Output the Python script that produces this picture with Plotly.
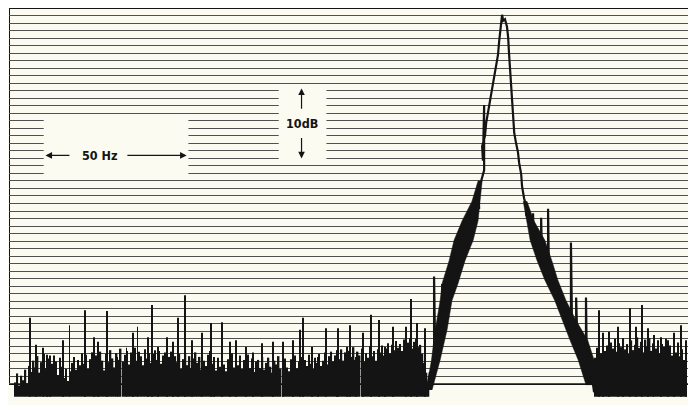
import plotly.graph_objects as go

# Spectrum analyser display: top graticule line = 0 dB, 1 dB per line, 50 dB deep, ~235 Hz wide
FREQ_SPAN = 235.0
DB_TOP = 0.0
DB_BOTTOM = -50.0
FLOOR_DB = -51.7  # lowest excursion of the trace (below the graticule)
graticule_db = list(range(-50, 1))

# Dense noise "grass" read on a uniform bin grid (Hz start, Hz step) -> level in dB
grass_left_start = 2.2
grass_right_start = 202.5
grass_step = 0.7
grass_left_db = [
    -49.8, -48.6, -50.2, -48.9, -49.5, -48.1, -49.9, -47.6, -48.4, -46.9,
    -47.8, -46.3, -48.5, -47.1, -46.0, -47.9, -46.6, -48.7, -47.3, -46.2,
    -47.0, -48.8, -46.5, -47.7, -49.2, -48.0, -49.6, -48.3, -47.2, -46.4,
    -48.1, -46.8, -47.5, -45.9, -47.3, -46.1, -48.0, -46.7, -45.8, -47.4,
    -46.2, -47.9, -45.7, -46.9, -48.2, -46.0, -47.1, -45.5, -46.6, -47.8,
    -45.9, -46.8, -45.3, -47.0, -46.1, -45.6, -47.4, -45.8, -46.5, -45.2,
    -46.9, -45.7, -46.3, -47.5, -45.4, -46.6, -45.9, -47.2, -46.0, -45.5,
    -46.8, -45.6, -47.3, -46.2, -45.8, -47.0, -46.4, -45.7, -47.6, -46.3,
    -47.1, -46.0, -48.0, -46.7, -45.9, -47.5, -46.3, -47.9, -46.6, -45.8,
    -47.2, -46.4, -48.1, -46.9, -47.6, -46.1, -45.6, -47.3, -46.8, -48.2,
    -46.5, -47.7, -46.0, -47.4, -48.3, -46.7, -47.1, -45.9, -47.8, -46.4,
    -47.5, -46.2, -48.0, -46.8, -47.3, -46.1, -47.9, -46.6, -48.4, -47.0,
    -46.8, -47.9, -46.4, -48.1, -47.2, -46.5, -47.7, -48.5, -46.9, -47.4,
    -46.3, -48.0, -47.1, -46.6, -47.8, -48.3, -46.7, -47.5, -46.2, -47.9,
    -47.0, -46.4, -48.2, -46.8, -47.6, -46.1, -47.3, -48.0, -46.5, -47.2,
    -46.0, -47.6, -46.9, -45.8, -47.4, -46.3, -45.7, -47.0, -46.2, -45.5,
    -46.7, -45.4, -46.9, -45.8, -47.2, -45.6, -46.4, -45.1, -46.8, -45.7,
    -46.2, -45.3, -47.0, -45.9, -46.5, -45.0, -46.3, -45.6, -46.9, -45.4,
    -45.8, -44.9, -46.2, -45.3, -44.6, -45.9, -44.8, -45.5, -44.3, -45.2,
    -44.7, -45.6, -44.1, -45.0, -44.5, -43.9, -45.3, -44.4, -44.0, -45.1,
    -44.8, -46.0, -47.2, -48.5, -50.0,
]
grass_right_db = [
    -46.5, -45.2, -44.8, -45.9, -44.3, -45.6, -44.9, -46.1, -44.5, -45.3,
    -44.0, -45.7, -44.6, -45.1, -43.9, -45.4, -44.7, -46.0, -44.2, -45.5,
    -44.8, -43.8, -45.2, -44.4, -45.8, -44.1, -45.0, -43.9, -45.6, -44.6,
    -45.3, -44.2, -45.9, -44.7, -45.1, -44.0, -45.7, -44.9, -46.2, -45.0,
    -45.8, -44.5, -46.3, -45.4, -46.8, -47.5,
]

# Tall noise spikes (Hz, dB)
spike_freq = [
    7.1, 9.2, 11.9, 13.0, 14.3, 18.5, 20.9, 26.4, 29.5, 30.9,
    34.0, 37.5, 40.6, 43.0, 44.4, 48.2, 49.5, 51.6, 54.7, 56.8,
    58.5, 60.9, 63.4, 66.8, 69.9, 70.8, 73.7, 76.5, 78.6, 82.0,
    84.4, 87.5, 91.3, 94.8, 98.2, 100.7, 101.7, 104.8, 106.9, 109.6,
    113.4, 113.8, 116.9, 117.9, 120.0, 122.4, 125.2, 127.9, 130.0, 132.8,
    137.3, 139.0, 141.1, 143.8,
    203.9, 205.3, 207.4, 210.5, 212.2, 214.6, 216.7, 218.8, 220.8, 222.9,
    225.3, 227.7, 229.8, 232.2, 233.9,
]
spike_db = [
    -41.2, -44.8, -45.2, -46.1, -46.2, -44.2, -42.2, -40.2, -43.8, -44.4,
    -40.3, -46.4, -45.2, -43.2, -42.4, -43.8, -39.5, -45.1, -43.8, -44.4,
    -41.2, -38.2, -44.2, -43.2, -41.9, -46.4, -41.8, -44.4, -44.2, -45.1,
    -45.8, -44.6, -44.4, -44.4, -44.2, -42.8, -41.2, -45.1, -46.4, -42.6,
    -46.4, -42.6, -45.1, -42.2, -46.4, -43.2, -40.8, -41.5, -45.1, -42.4,
    -42.4, -38.7, -41.9, -42.6,
    -40.2, -43.2, -43.1, -42.4, -44.2, -39.9, -42.4, -39.5, -42.6, -43.5,
    -43.8, -44.2, -43.2, -42.2, -44.2,
]

# The carrier peak trace (Hz, dB)
peak_freq = [
    144.2, 144.9, 145.5, 146.2, 146.9, 146.9, 147.3, 148.3, 149.3, 149.7,
    149.7, 150.0, 151.1, 150.7, 152.1, 152.4, 153.8, 153.1, 155.2, 154.2,
    156.6, 155.5, 158.3, 156.9, 159.7, 158.7, 161.4, 160.7, 162.5, 162.1,
    163.2, 164.2, 164.2, 163.8, 163.5, 164.5, 164.9, 165.6, 166.3, 167.3,
    168.0, 169.0, 169.4, 169.7, 170.4, 170.8, 171.4, 172.1, 172.5, 172.8,
    173.2, 173.9, 174.2, 174.6, 175.2, 175.9, 176.3, 177.0, 177.3, 178.0,
    179.0, 178.7, 180.4, 181.1, 181.1, 181.4, 182.1, 181.4, 183.9, 183.9,
    184.2, 183.5, 186.3, 186.3, 186.6, 185.6, 188.4, 188.0, 190.8, 190.4,
    192.9, 192.5, 194.2, 194.2, 194.6, 195.3, 196.0, 196.0, 196.4, 194.9,
    197.3, 197.3, 199.4, 199.4, 199.7, 199.7, 201.5, 202.2,
]
peak_db = [
    -51.3, -49.5, -48.4, -49.7, -45.8, -35.7, -46.3, -43.5, -44.8, -40.5,
    -36.7, -40.7, -41.8, -38.3, -39.5, -36.5, -37.8, -34.6, -35.7, -32.5,
    -33.8, -30.6, -31.7, -29.0, -29.8, -27.5, -28.2, -26.1, -26.7, -24.5,
    -22.9, -21.6, -12.9, -20.3, -18.4, -17.0, -15.3, -13.7, -12.1, -10.2,
    -8.4, -6.2, -4.4, -3.0, -0.9, -1.7, -1.5, -2.5, -3.9, -6.0,
    -8.4, -11.3, -13.9, -16.6, -17.9, -19.2, -20.6, -22.1, -23.7, -25.3,
    -26.7, -27.5, -28.5, -30.4, -27.3, -31.2, -30.4, -31.7, -32.5, -27.9,
    -33.0, -33.8, -34.6, -26.7, -35.1, -35.9, -36.5, -37.8, -38.6, -39.7,
    -40.6, -41.8, -42.3, -31.2, -42.8, -42.8, -43.6, -38.5, -44.2, -43.9,
    -45.0, -46.3, -46.8, -38.5, -47.3, -48.4, -49.2, -51.1,
]

# Thickness of the noisy trace along the skirts: level (dB) with outer / inner edge (Hz)
left_band_db = [-50.8, -46.8, -42.8, -38.9, -36.6, -33.6, -30.9, -28.3, -25.7, -23.0]
left_band_outer_hz = [144.2, 146.0, 147.3, 149.0, 149.7, 152.1, 153.8, 156.6, 160.0, 162.1]
left_band_inner_hz = [146.2, 149.0, 151.4, 153.1, 155.2, 157.6, 160.4, 162.1, 162.8, 163.5]
right_band_db = [-25.7, -28.3, -30.9, -33.6, -36.2, -38.9, -41.5, -44.2, -46.8, -50.1]
right_band_outer_hz = [179.0, 181.4, 185.2, 187.6, 189.7, 192.5, 195.9, 200.0, 202.2, 203.2]
right_band_inner_hz = [177.7, 179.0, 180.1, 182.5, 185.2, 188.6, 191.1, 193.9, 196.7, 199.4]

INK = "#141414"
PAPER = "#fbfbf2"

grass_left_x = [grass_left_start + i * grass_step for i in range(len(grass_left_db))]
grass_right_x = [grass_right_start + i * grass_step for i in range(len(grass_right_db))]

fig = go.Figure()
fig.add_trace(go.Bar(
    x=grass_left_x + grass_right_x,
    y=[v - FLOOR_DB for v in grass_left_db + grass_right_db],
    base=FLOOR_DB, width=0.5,
    marker=dict(color=INK, line=dict(width=0)),
    hoverinfo="skip",
))
fig.add_trace(go.Bar(
    x=spike_freq,
    y=[v - FLOOR_DB for v in spike_db],
    base=FLOOR_DB, width=0.33,
    marker=dict(color=INK, line=dict(width=0)),
    hoverinfo="skip",
))
# skirt bands
fig.add_trace(go.Scatter(
    x=left_band_outer_hz + left_band_inner_hz[::-1],
    y=left_band_db + left_band_db[::-1],
    mode="lines", fill="toself", fillcolor=INK, line=dict(width=0.5, color=INK),
    hoverinfo="skip",
))
fig.add_trace(go.Scatter(
    x=right_band_inner_hz + right_band_outer_hz[::-1],
    y=right_band_db + right_band_db[::-1],
    mode="lines", fill="toself", fillcolor=INK, line=dict(width=0.5, color=INK),
    hoverinfo="skip",
))
fig.add_trace(go.Scatter(
    x=peak_freq, y=peak_db, mode="lines",
    line=dict(color=INK, width=2.2),
    hoverinfo="skip",
))

# graticule frame
fig.add_shape(type="rect", x0=0, x1=FREQ_SPAN, y0=DB_BOTTOM, y1=DB_TOP,
              line=dict(color=INK, width=2), layer="below")

# white legend boxes
fig.add_shape(type="rect", x0=12.0, x1=62.0, y0=-22.6, y1=-14.7,
              fillcolor=PAPER, line=dict(width=0), layer="above")
fig.add_shape(type="rect", x0=93.2, x1=109.7, y0=-20.2, y1=-10.4,
              fillcolor=PAPER, line=dict(width=0), layer="above")

font = dict(family="DejaVu Sans Condensed, DejaVu Sans, sans-serif", size=12.5, color=INK)
fig.add_annotation(x=31.4, y=-19.6, text="<b>50 Hz</b>", showarrow=False, font=font)
fig.add_annotation(x=101.3, y=-15.3, text="<b>10dB</b>", showarrow=False, font=font)

arrow = dict(showarrow=True, text="", arrowhead=2, arrowsize=1.1, arrowwidth=1.2,
             arrowcolor=INK, axref="x", ayref="y", xref="x", yref="y")
fig.add_annotation(x=12.6, y=-19.6, ax=21.4, ay=-19.6, **arrow)
fig.add_annotation(x=61.4, y=-19.6, ax=40.4, ay=-19.6, **arrow)
fig.add_annotation(x=101.1, y=-10.7, ax=101.1, ay=-13.6, **arrow)
fig.add_annotation(x=101.1, y=-20.0, ax=101.1, ay=-17.1, **arrow)

# the page body has an 8 px default margin, so the figure is sized to fit the window
fig.update_layout(
    width=688, height=397,
    margin=dict(l=1, r=7, t=0, b=6, pad=0),
    paper_bgcolor=PAPER, plot_bgcolor=PAPER,
    showlegend=False, barmode="overlay",
    xaxis=dict(range=[0, FREQ_SPAN], showgrid=False, zeroline=False,
               showticklabels=False, ticks="", showline=False, fixedrange=True),
    yaxis=dict(range=[-52.0, DB_TOP], tickmode="array", tickvals=graticule_db,
               showgrid=True, gridcolor="#505050", gridwidth=1, zeroline=False,
               showticklabels=False, ticks="", showline=False, fixedrange=True),
)

fig.write_html("out.html")
